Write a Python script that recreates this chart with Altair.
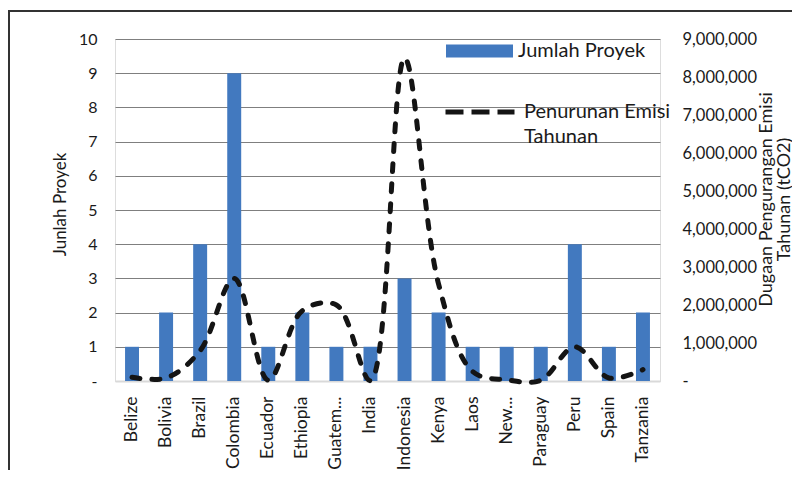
import altair as alt
import pandas as pd

negara = ["Belize", "Bolivia", "Brazil", "Colombia", "Ecuador", "Ethiopia", "Guatem...",
          "India", "Indonesia", "Kenya", "Laos", "New...", "Paraguay", "Peru", "Spain", "Tanzania"]
jumlah_proyek = [1, 2, 4, 9, 1, 2, 1, 1, 3, 2, 1, 1, 1, 4, 1, 2]
penurunan_emisi = [100000, 80000, 800000, 2700000, 20000, 1850000, 2000000, 10000,
                   8500000, 2550000, 250000, 30000, 20000, 900000, 80000, 300000]
left_ticks = [0, 1, 2, 3, 4, 5, 6, 7, 8, 9, 10]
right_ticks = [0, 1000000, 2000000, 3000000, 4000000, 5000000, 6000000, 7000000, 8000000, 9000000]
seri_bar = "Jumlah Proyek"
seri_garis = "Penurunan Emisi Tahunan"
label_garis = ["Penurunan Emisi", "Tahunan"]
judul_kiri = "Junlah Proyek"
judul_kanan = ["Dugaan Pengurangan Emisi", "Tahunan (tCO2)"]

df = pd.DataFrame({"Negara": negara, "Jumlah": jumlah_proyek, "Emisi": penurunan_emisi,
                   "SeriBar": [seri_bar] * len(negara), "SeriGaris": [seri_garis] * len(negara)})

FONT = "Lato"
TXT = "#1a1a1a"

x_enc = alt.X("Negara:N", sort=negara,
              scale=alt.Scale(paddingInner=0.59, paddingOuter=0.295),
              axis=alt.Axis(title=None, labelAngle=270, labelAlign="right", labelBaseline="middle",
                            labelFont=FONT, labelFontSize=17.5, labelColor=TXT, labelPadding=15,
                            ticks=False, tickSize=0, domainColor="#d9d9d9", domainWidth=2,
                            labelLimit=200))

bars = alt.Chart(df).mark_bar().encode(
    x=x_enc,
    y=alt.Y("Jumlah:Q", scale=alt.Scale(domain=[0, 10], nice=False),
            axis=alt.Axis(values=left_ticks, title=judul_kiri, grid=True,
                          gridColor=alt.condition("datum.value == 0", alt.value("#d9d9d9"), alt.value("#7f7f7f")),
                          gridWidth=1, domain=False, ticks=False, tickSize=0,
                          labelExpr="datum.value == 0 ? '-' : datum.label",
                          labelFont=FONT, labelFontSize=16, labelColor=TXT, labelPadding=18,
                          titleFont=FONT, titleFontSize=17, titleFontWeight="normal", titleColor=TXT,
                          titleAngle=270, titleAlign="center", titleBaseline="middle",
                          titleX=-55, titleY=165)),
    fill=alt.Fill("SeriBar:N", scale=alt.Scale(domain=[seri_bar], range=["#4279bf"]),
                  legend=alt.Legend(title=None, orient="none", legendX=331, legendY=-21.5,
                                    symbolType="M-1,-0.194L1,-0.194L1,0.194L-1,0.194Z",
                                    symbolSize=4489, symbolStrokeWidth=0, padding=0,
                                    labelFont=FONT, labelFontSize=20, labelColor=TXT,
                                    labelOffset=5, labelLimit=300)),
)

line = alt.Chart(df).mark_line(interpolate="catmull-rom", strokeWidth=5, strokeDash=[8, 12],
                               strokeCap="round", color="#141414").encode(
    x=x_enc,
    y=alt.Y("Emisi:Q", scale=alt.Scale(domain=[0, 9000000], nice=False),
            axis=alt.Axis(orient="right", values=right_ticks, grid=False,
                          domain=False, ticks=False, tickSize=0,
                          labelExpr="datum.value == 0 ? '-' : format(datum.value, ',')",
                          labelFont=FONT, labelFontSize=16.5, labelColor=TXT, labelPadding=22,
                          title=judul_kanan, titleFont=FONT, titleFontSize=18,
                          titleFontWeight="normal", titleColor=TXT, titleAngle=270,
                          titleAlign="center", titleBaseline="middle", titleLineHeight=18,
                          titleX=106, titleY=160)),
    stroke=alt.Stroke("SeriGaris:N", scale=alt.Scale(domain=[seri_garis], range=["#141414"]),
                      legend=alt.Legend(title=None, orient="none", legendX=328, legendY=36,
                                        symbolType="M-1,0L1,0",
                                        symbolSize=4761, symbolStrokeWidth=5,
                                        symbolDash=[18, 8], symbolFillColor="transparent",
                                        padding=0, labelFont=FONT, labelFontSize=20,
                                        labelColor=TXT, labelOffset=7, labelLimit=300,
                                        labelExpr=str(label_garis))),
)

frame_data = alt.Data(values=[{}])
frame_left = alt.Chart(frame_data).mark_rule(color="#333333", strokeWidth=2).encode(
    x=alt.value(-106), y=alt.value(-29), y2=alt.value(480))
frame_top = alt.Chart(frame_data).mark_rule(color="#333333", strokeWidth=2).encode(
    x=alt.value(-107), x2=alt.value(700), y=alt.value(-28))

chart = alt.layer(bars, line, frame_left, frame_top).resolve_scale(
    y="independent", fill="independent", stroke="independent"
).properties(
    width=545, height=342,
    autosize=alt.AutoSizeParams(type="none"),
    padding={"left": 107, "top": 31, "right": 132, "bottom": 89}
).configure_view(stroke=None).configure(
    background="white", style={"guide-label": {"lineHeight": 25}}
)

chart.save("out.html", embed_options={"renderer": "svg", "actions": False})
